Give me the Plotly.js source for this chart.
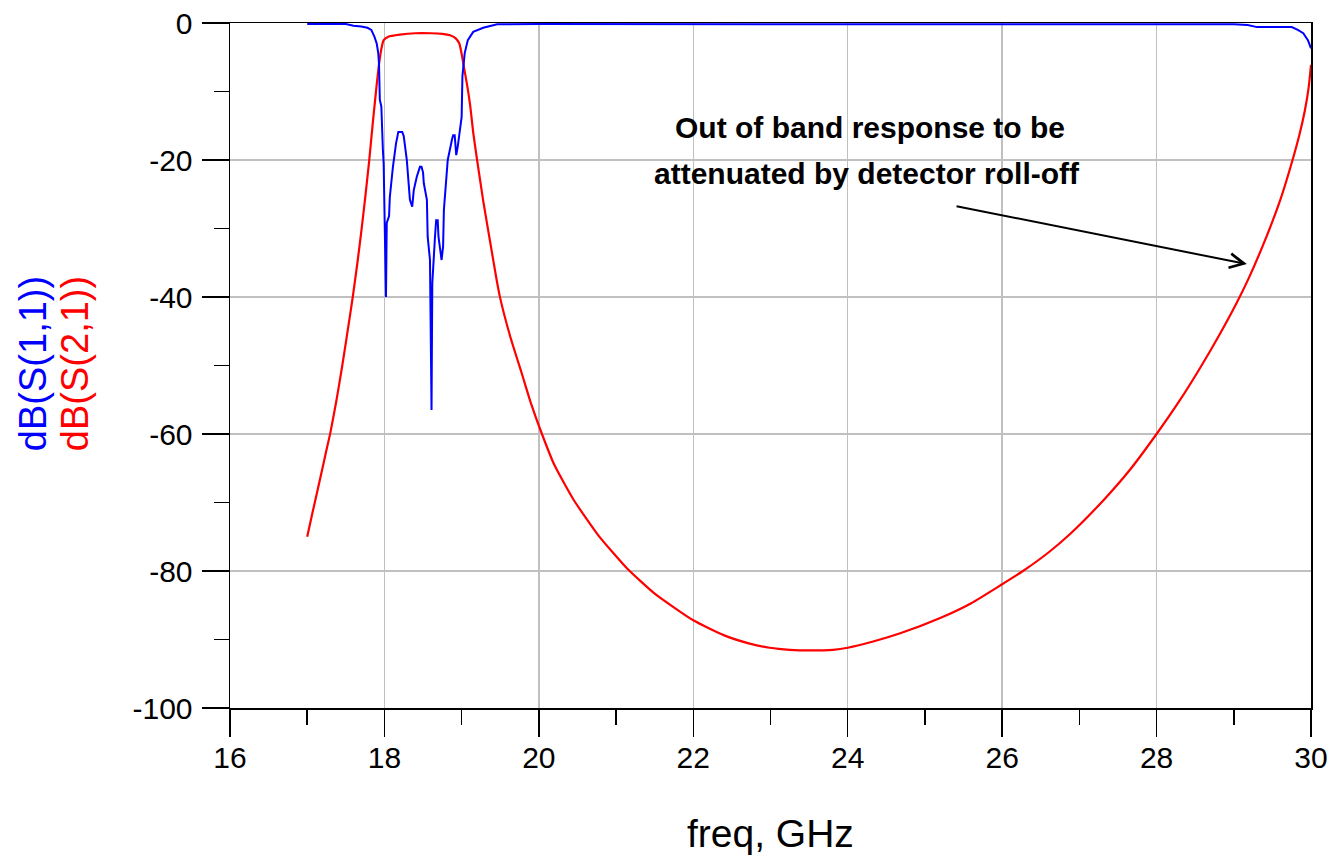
<!DOCTYPE html>
<html>
<head>
<meta charset="utf-8">
<script src="https://cdn.plot.ly/plotly-3.0.1.min.js"></script>
<style>
  html, body { margin: 0; padding: 0; background: #ffffff; }
  #chart { width: 1332px; height: 855px; }
</style>
</head>
<body>
<div id="chart"></div>
<script>
// ---- data (freq in GHz, values in dB) ----
const freqS21 = [17.00, 17.07, 17.17, 17.24, 17.30, 17.38, 17.45, 17.52,
  17.59, 17.65, 17.70, 17.75, 17.80, 17.85, 17.90, 17.93, 17.96, 17.99,
  18.05, 18.20, 18.40, 18.60, 18.75, 18.85, 18.92, 18.97, 19.00, 19.03,
  19.07, 19.11, 19.15, 19.20, 19.28, 19.37, 19.45, 19.50, 19.63, 19.78,
  19.90, 20.04, 20.20, 20.45, 20.77, 21.14, 21.50, 22.00, 22.40, 22.73,
  22.99, 23.25, 23.50, 23.81, 24.00, 24.33, 24.68, 25.19, 25.60, 25.99,
  26.27, 26.60, 26.88, 27.31, 27.65, 28.00, 28.30, 28.54, 28.80, 29.04,
  29.20, 29.43, 29.60, 29.73, 29.85, 29.92, 29.97, 30.00];
const dbS21 = [-75, -71.4, -66.4, -62.8, -59.8, -55, -50.3, -45.2,
  -40, -35, -30.5, -25.6, -20.4, -14.5, -9, -6, -3.8, -2.5,
  -2.0, -1.7, -1.5, -1.5, -1.6, -1.8, -2.2, -3.0, -4.5, -6.5,
  -9, -12, -16, -20, -26, -32, -37.3, -40.2, -45.8, -51.2,
  -55.6, -60, -64.5, -69.6, -74.8, -79.6, -83.3, -87.2, -89.4, -90.6,
  -91.2, -91.5, -91.6, -91.5, -91.2, -90.3, -89.1, -86.9, -84.7, -82.0,
  -80.0, -77.3, -74.6, -69.7, -65.3, -60.0, -55.1, -50.8, -45.8, -40.8,
  -37.1, -31.0, -25.9, -21.2, -16.3, -12.8, -9.4, -6.1];

const freqS11 = [17.00, 17.50, 17.60, 17.70, 17.78, 17.83, 17.87, 17.90, 17.92, 17.93,
  17.94, 17.96, 17.98, 17.99, 18.02, 18.03, 18.06, 18.07, 18.11, 18.15,
  18.18, 18.23, 18.25, 18.29, 18.31, 18.33, 18.36, 18.38, 18.42, 18.46,
  18.48, 18.50, 18.51, 18.55, 18.56, 18.59, 18.61, 18.62, 18.655, 18.67,
  18.69, 18.70, 18.74, 18.76, 18.77, 18.80, 18.82, 18.875, 18.89, 18.91,
  18.92, 18.93, 18.95, 19.00, 19.01, 19.04, 19.08, 19.15, 19.28, 19.46,
  20.00, 25.00, 29.00, 29.18, 29.30, 29.75, 29.83, 29.90, 29.96, 30.00];
const dbS11 = [-0.15, -0.15, -0.4, -0.5, -0.7, -1.0, -2.0, -3.0, -4.4, -6.0,
  -11.2, -12.2, -18.5, -20.5, -40, -29.2, -28.2, -25.4, -21, -17.6,
  -15.9, -15.9, -16.5, -20, -22.9, -25.8, -26.8, -24.4, -22.4, -21,
  -21, -21.8, -23.4, -25.8, -31.2, -34.6, -56.5, -38, -31.2, -28.8,
  -28.8, -31.2, -34.6, -32.6, -27.3, -23.4, -20, -17, -16.4, -16.4,
  -18, -19.3, -18, -13.7, -7.8, -4.4, -2.5, -1.3, -0.7, -0.2,
  -0.15, -0.15, -0.2, -0.3, -0.6, -0.6, -1.0, -1.5, -2.5, -3.7];

const xTickVals = [16, 18, 20, 22, 24, 26, 28, 30];
const yTickVals = [0, -20, -40, -60, -80, -100];
const labelS11 = 'dB(S(1,1))';
const labelS21 = 'dB(S(2,1))';
const xTitle = 'freq, GHz';
const noteLine1 = 'Out of band response to be';
const noteLine2 = 'attenuated by detector roll-off';

// ---- drawing ----
const FONT = 'Arial, "Liberation Sans", sans-serif';

const traces = [
  { x: freqS21, y: dbS21, type: 'scatter', mode: 'lines', name: labelS21,
    line: { color: '#ff0000', width: 2.2, shape: 'spline', smoothing: 0.5 }, hoverinfo: 'x+y' },
  { x: freqS11, y: dbS11, type: 'scatter', mode: 'lines', name: labelS11,
    line: { color: '#0000ff', width: 2 }, hoverinfo: 'x+y' }
];

const axisCommon = {
  showline: true, linecolor: '#000000', linewidth: 1.5, mirror: true,
  ticks: 'outside', ticklen: 27, tickwidth: 1.5, tickcolor: '#000000',
  showgrid: true, gridcolor: '#c0c0c0', gridwidth: 1.5,
  zeroline: false, layer: 'below traces',
  tickfont: { family: FONT, size: 30, color: '#000000' }
};

const layout = {
  width: 1332, height: 855,
  margin: { l: 230, r: 21, t: 23, b: 147, pad: 0 },
  paper_bgcolor: '#ffffff', plot_bgcolor: '#ffffff',
  showlegend: false,
  xaxis: Object.assign({}, axisCommon, {
    range: [16, 30], tickvals: xTickVals, ticktext: xTickVals.map(String),
    minor: { dtick: 1, tick0: 16, ticks: 'outside', ticklen: 15, tickwidth: 1.5,
             tickcolor: '#000000', showgrid: false },
    ticklabelstandoff: -5
  }),
  yaxis: Object.assign({}, axisCommon, {
    range: [-100, 0], tickvals: yTickVals, ticktext: yTickVals.map(String),
    minor: { dtick: 10, tick0: 0, ticks: 'outside', ticklen: 15, tickwidth: 1.5,
             tickcolor: '#000000', showgrid: false },
    ticklabelstandoff: 3
  }),
  annotations: [
    { xref: 'paper', yref: 'paper', x: 0.5, y: -0.1825, xanchor: 'center', yanchor: 'middle',
      text: xTitle, showarrow: false, font: { family: FONT, size: 39, color: '#000000' } },
    { xref: 'paper', yref: 'paper', x: (33 - 230) / 1081, y: 0.502, xanchor: 'center', yanchor: 'middle',
      text: labelS11, textangle: -90, showarrow: false, font: { family: FONT, size: 38, color: '#0000ff' } },
    { xref: 'paper', yref: 'paper', x: (75 - 230) / 1081, y: 0.502, xanchor: 'center', yanchor: 'middle',
      text: labelS21, textangle: -90, showarrow: false, font: { family: FONT, size: 38, color: '#ff0000' } },
    { xref: 'x', yref: 'y', x: 24.29, y: -15.2, xanchor: 'center', yanchor: 'middle',
      text: '<b>' + noteLine1 + '</b>', showarrow: false, font: { family: FONT, size: 30, color: '#000000' } },
    { xref: 'x', yref: 'y', x: 24.25, y: -22.0, xanchor: 'center', yanchor: 'middle',
      text: '<b>' + noteLine2 + '</b>', showarrow: false, font: { family: FONT, size: 30, color: '#000000' } },
    { xref: 'x', yref: 'y', axref: 'x', ayref: 'y', x: 29.17, y: -35.2, ax: 25.39, ay: -26.7,
      text: '', showarrow: true, arrowhead: 5, arrowsize: 1.4, arrowwidth: 2, arrowcolor: '#000000',
      standoff: 0, startstandoff: 0 }
  ]
};

Plotly.newPlot('chart', traces, layout, { displayModeBar: false, staticPlot: true });
</script>
</body>
</html>
